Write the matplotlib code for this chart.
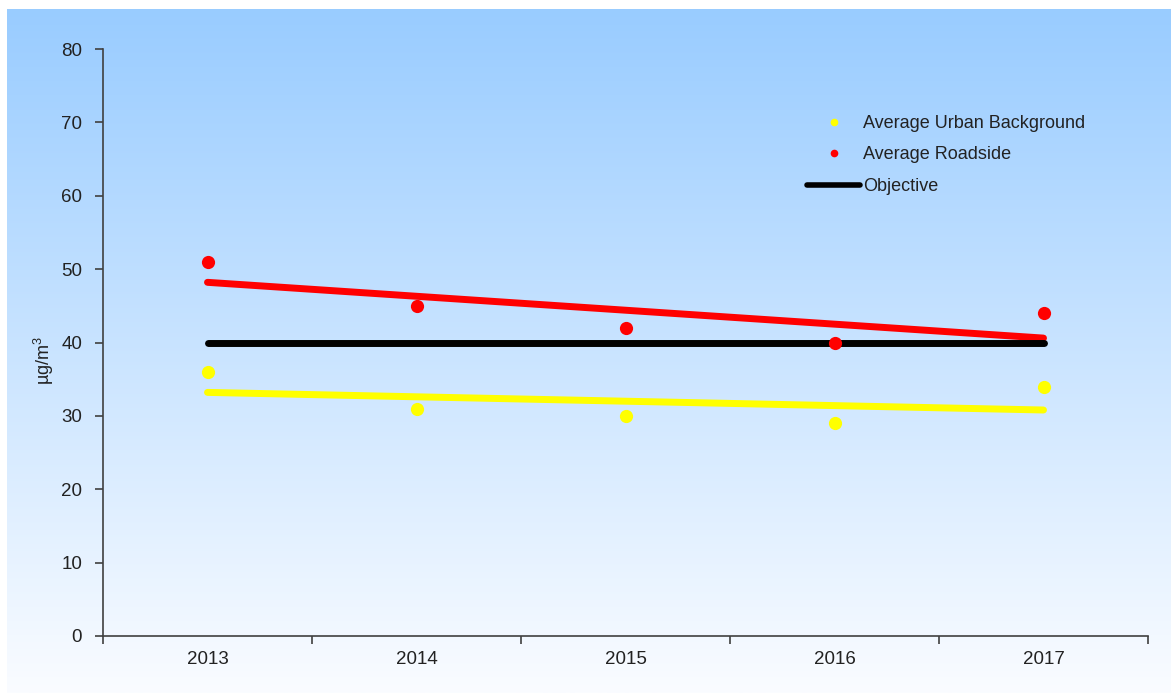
import matplotlib
matplotlib.use("Agg")
import matplotlib.pyplot as plt
from matplotlib.lines import Line2D
import numpy as np

plt.rcParams['font.family'] = ['Liberation Sans', 'DejaVu Sans']
plt.rcParams['mathtext.fontset'] = 'custom'
plt.rcParams['mathtext.rm'] = 'Liberation Sans'
plt.rcParams['mathtext.it'] = 'Liberation Sans'

years = ['2013', '2014', '2015', '2016', '2017']
urban_background = [36, 31, 30, 29, 34]
roadside = [51, 45, 42, 40, 44]
objective = 40
y_ticks = [0, 10, 20, 30, 40, 50, 60, 70, 80]

W, H = 1171, 693
fig = plt.figure(figsize=(W / 100, H / 100), dpi=100)

# gradient background (blue top -> near white bottom)
bg = fig.add_axes([7 / W, 0, 1 - 7 / W, (H - 9) / H], zorder=0)
top = np.array([153, 204, 255]) / 255
bot = np.array([250, 252, 255]) / 255
t = np.linspace(0, 1, 256)[:, None]
grad = (top * (1 - t) + bot * t)[:, None, :]
bg.imshow(grad, aspect='auto', extent=[0, 1, 0, 1])
bg.axis('off')

ax = fig.add_axes([103 / W, (H - 636) / H, (1148 - 103) / W, (636 - 49) / H], zorder=1)
ax.set_facecolor('none')

x = np.arange(len(years))

# trend lines
p_rs = np.polyfit(x, roadside, 1)
p_ub = np.polyfit(x, urban_background, 1)
ends = np.array([x[0], x[-1]])
ax.plot(ends, np.polyval(p_rs, ends), color='#ff0000', lw=5, solid_capstyle='round', zorder=3)
ax.plot(ends, np.polyval(p_ub, ends), color='#ffff00', lw=5, solid_capstyle='round', zorder=3)
ax.plot(ends, [objective, objective], color='black', lw=5, solid_capstyle='round', zorder=3)

ax.plot(x, urban_background, 'o', color='#ffff00', ms=9.5, mec='none', zorder=4)
ax.plot(x, roadside, 'o', color='#ff0000', ms=9.5, mec='none', zorder=4)

ax.set_xlim(-0.5, len(years) - 0.5)
ax.set_ylim(0, 80)
ax.set_yticks(y_ticks)
ax.set_xticks(np.arange(-0.5, len(years), 1))
ax.set_xticklabels([])
ax.set_xticks(x, minor=True)
ax.set_xticklabels(years, minor=True)

spine_col = '#404040'
for s in ['top', 'right']:
    ax.spines[s].set_visible(False)
for s in ['left', 'bottom']:
    ax.spines[s].set_color(spine_col)
    ax.spines[s].set_linewidth(1.2)
ax.tick_params(axis='y', direction='out', length=6, width=1.2, color=spine_col,
               labelsize=13.5, labelcolor='#222222', pad=9)
ax.tick_params(axis='x', which='major', direction='out', length=6, width=1.2, color=spine_col)
ax.tick_params(axis='x', which='minor', length=0, labelsize=13.5, labelcolor='#222222', pad=11)

ax.set_ylabel('µg/m$^3$', fontsize=13, color='#222222')
ax.yaxis.set_label_coords(-0.045, 0.47)

handles = [
    Line2D([], [], ls='none', marker='o', color='#ffff00', ms=5.5, mec='none'),
    Line2D([], [], ls='none', marker='o', color='#ff0000', ms=5.5, mec='none'),
    Line2D([], [], color='black', lw=4, solid_capstyle='round'),
]
labels = ['Average Urban Background', 'Average Roadside', 'Objective']
leg = ax.legend(handles, labels, loc='upper left', bbox_to_anchor=(807 / W, (H - 115) / H),
                bbox_transform=fig.transFigure, frameon=False, fontsize=13,
                handlelength=2.95, handletextpad=0.15, labelspacing=0.8,
                borderpad=0, borderaxespad=0)
for txt in leg.get_texts():
    txt.set_color('#222222')

fig.savefig('out.png', dpi=100)
